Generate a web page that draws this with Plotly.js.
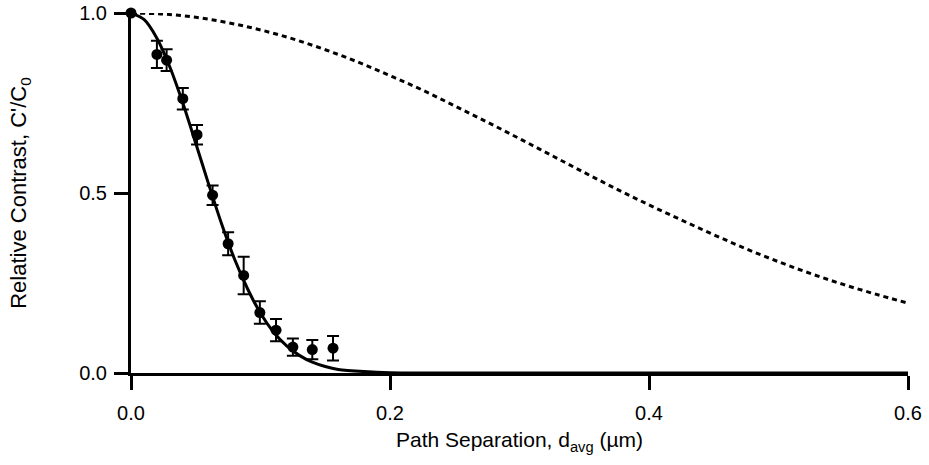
<!DOCTYPE html>
<html>
<head>
<meta charset="utf-8">
<script src="https://cdn.plot.ly/plotly-3.0.1.min.js"></script>
<style>html,body{margin:0;padding:0;background:#fff;}#chart{width:929px;height:465px;}</style>
</head>
<body>
<div id="chart"></div>
<script>
// Measured data points with error bars
const dataX = [0, 0.020, 0.0275, 0.040, 0.051, 0.063, 0.075, 0.087, 0.0995, 0.112, 0.125, 0.140, 0.156];
const dataY = [1.0, 0.885, 0.869, 0.762, 0.662, 0.494, 0.359, 0.271, 0.168, 0.119, 0.072, 0.065, 0.069];
const dataErr = [0, 0.038, 0.030, 0.030, 0.027, 0.027, 0.032, 0.052, 0.031, 0.031, 0.024, 0.027, 0.034];

// Solid fit curve
const fitX = [0, 0.01, 0.02, 0.03, 0.04, 0.05, 0.06, 0.07, 0.08, 0.09, 0.10, 0.11, 0.12, 0.13, 0.14, 0.15, 0.16, 0.18, 0.20, 0.30, 0.45, 0.60];
const fitY = [1.0, 0.982, 0.930, 0.850, 0.750, 0.638, 0.524, 0.414, 0.316, 0.234, 0.166, 0.114, 0.076, 0.049, 0.030, 0.018, 0.010, 0.004, 0.001, 0, 0, 0];

// Dashed curve
const dashX = [0, 0.025, 0.05, 0.075, 0.1, 0.125, 0.15, 0.175, 0.2, 0.225, 0.25, 0.275, 0.3, 0.325, 0.35, 0.375, 0.4, 0.425, 0.45, 0.475, 0.5, 0.525, 0.55, 0.575, 0.6];
const dashY = [1.0, 0.997, 0.988, 0.973, 0.953, 0.928, 0.898, 0.864, 0.826, 0.786, 0.742, 0.697, 0.651, 0.604, 0.557, 0.511, 0.467, 0.425, 0.384, 0.345, 0.309, 0.276, 0.246, 0.219, 0.194];

// Tick labels
const xTickVals = [0, 0.2, 0.4, 0.6];
const xTickText = ["0.0", "0.2", "0.4", "0.6"];
const yTickVals = [0, 0.5, 1.0];
const yTickText = ["0.0", "0.5", "1.0"];

const FONT = "Liberation Sans, Arial, Helvetica, sans-serif";

const traces = [
  {
    x: dashX, y: dashY, type: "scatter", mode: "lines",
    line: {color: "#000", width: 3, dash: "5px,4px", shape: "spline"},
    cliponaxis: false, hoverinfo: "skip"
  },
  {
    x: fitX, y: fitY, type: "scatter", mode: "lines",
    line: {color: "#000", width: 3, shape: "spline", smoothing: 0.8},
    cliponaxis: false, hoverinfo: "skip"
  },
  {
    x: dataX, y: dataY, type: "scatter", mode: "markers",
    marker: {color: "#000", size: 11},
    error_y: {type: "data", array: dataErr, visible: true, color: "#000", thickness: 2, width: 6},
    cliponaxis: false
  }
];

const layout = {
  width: 929, height: 465,
  margin: {l: 131, r: 21, t: 13, b: 92},
  paper_bgcolor: "#fff", plot_bgcolor: "#fff",
  showlegend: false,
  font: {family: FONT, color: "#000", size: 20},
  xaxis: {
    range: [0, 0.6], tickvals: xTickVals, ticktext: xTickText,
    showgrid: false, zeroline: false, showline: true, linecolor: "#000", linewidth: 3,
    ticks: "outside", ticklen: 14, tickwidth: 3, tickcolor: "#000",
    tickfont: {family: FONT, size: 20, color: "#000"},
    ticklabelstandoff: 6,
    title: {text: "Path Separation, d<sub>avg</sub> (µm)", font: {family: FONT, size: 21, color: "#000"}, standoff: 10}
  },
  yaxis: {
    range: [0, 1], tickvals: yTickVals, ticktext: yTickText,
    showgrid: false, zeroline: false, showline: true, linecolor: "#000", linewidth: 3,
    ticks: "outside", ticklen: 14, tickwidth: 3, tickcolor: "#000",
    tickfont: {family: FONT, size: 20, color: "#000"},
    ticklabelstandoff: 3,
    title: {text: "Relative Contrast, C'/C<sub>0</sub>", font: {family: FONT, size: 22, color: "#000"}, standoff: 47}
  }
};

Plotly.newPlot("chart", traces, layout, {displayModeBar: false, staticPlot: true});
</script>
</body>
</html>
